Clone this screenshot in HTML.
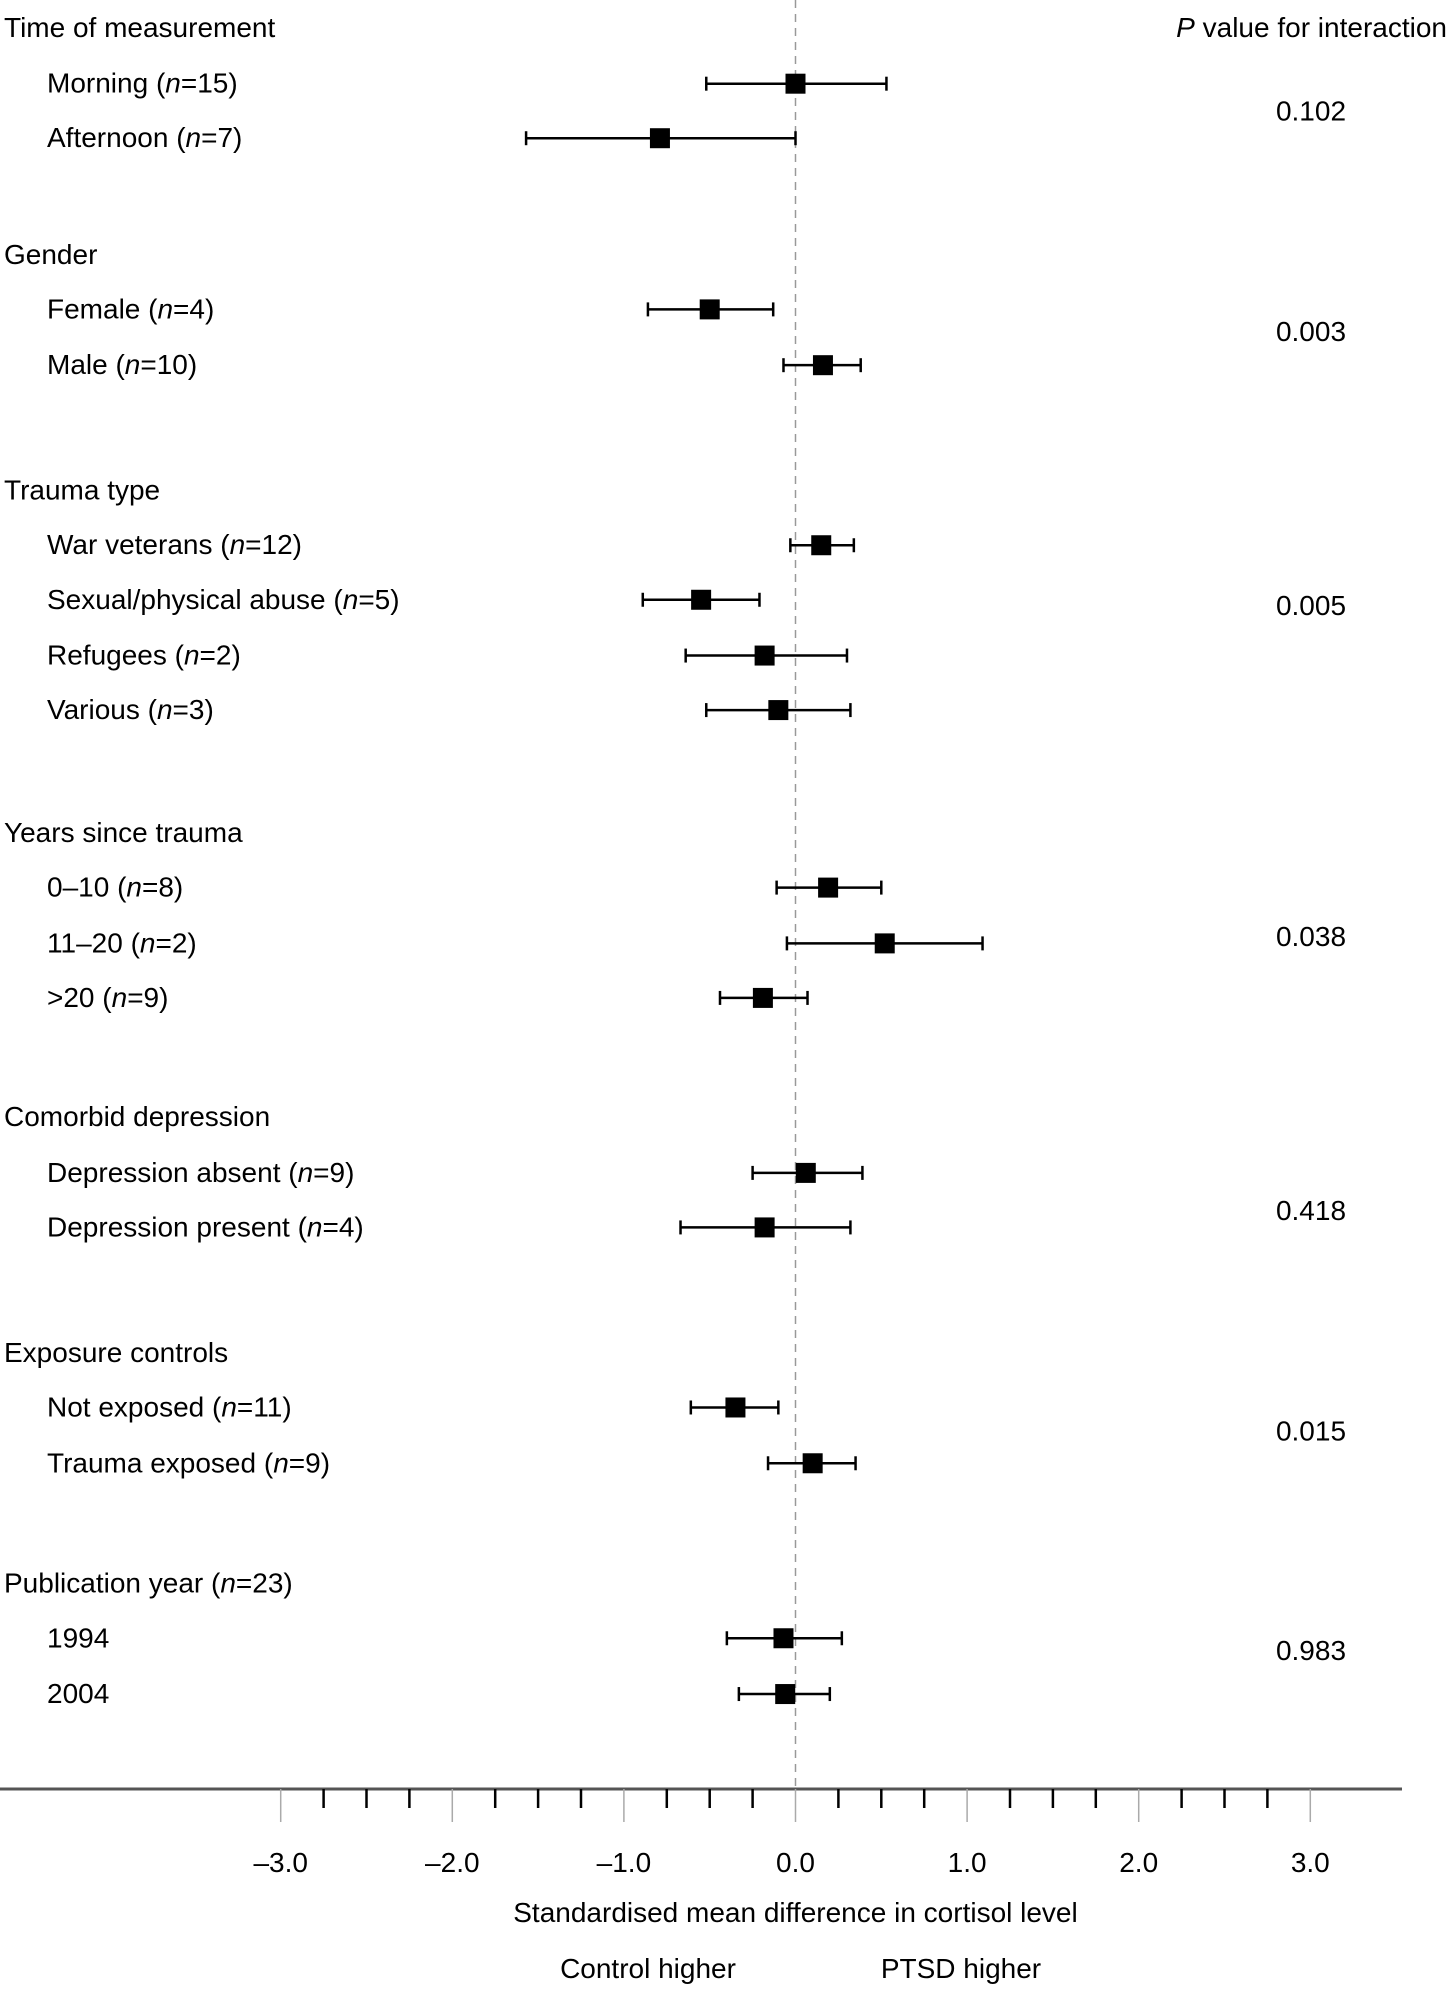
<!DOCTYPE html>
<html><head><meta charset="utf-8"><style>
body{margin:0;background:#fff;}
svg{display:block;font-family:"Liberation Sans",sans-serif;}
text{fill:#000;font-size:28px;}
</style></head><body>
<svg id="chart" width="1449" height="1990" viewBox="0 0 1449 1990" xmlns="http://www.w3.org/2000/svg">
<text x="1447" y="37" text-anchor="end"><tspan font-style="italic">P</tspan> value for interaction</text>
</svg>
<script>
const headers=["Time of measurement","Gender","Trauma type","Years since trauma","Comorbid depression","Exposure controls","Publication year (n=23)"];
const headerRows=[22,201,387,657,881,1067,1249];
const labels=["Morning|15","Afternoon|7","Female|4","Male|10","War veterans|12","Sexual/physical abuse|5","Refugees|2","Various|3","0–10|8","11–20|2",">20|9","Depression absent|9","Depression present|4","Not exposed|11","Trauma exposed|9","1994|","2004|"];
const rowPos=[66,109,244,288,430,473,517,560,700,744,787,925,968,1110,1154,1292,1336];
const est=[0.0,-0.79,-0.50,0.16,0.15,-0.55,-0.18,-0.10,0.19,0.52,-0.19,0.06,-0.18,-0.35,0.10,-0.07,-0.06];
const lo=[-0.52,-1.57,-0.86,-0.07,-0.03,-0.89,-0.64,-0.52,-0.11,-0.05,-0.44,-0.25,-0.67,-0.61,-0.16,-0.40,-0.33];
const hi=[0.53,0.0,-0.13,0.38,0.34,-0.21,0.30,0.32,0.50,1.09,0.07,0.39,0.32,-0.10,0.35,0.27,0.20];
const pvals=["0.102","0.003","0.005","0.038","0.418","0.015","0.983"];
const pRows=[88,262,478,739,955,1129,1302];
const tickVals=[-3,-2,-1,0,1,2,3];
const tickLabels=["–3.0","–2.0","–1.0","0.0","1.0","2.0","3.0"];

const S=1.268;
const xs=v=>795.5+v*171.6;
const ys=r=>r*S;
const svg=document.getElementById('chart');
const NS="http://www.w3.org/2000/svg";
function mk(tag,attrs,parent){const e=document.createElementNS(NS,tag);for(const k in attrs)e.setAttribute(k,attrs[k]);(parent||svg).appendChild(e);return e;}
const axisY=1789;
let z=mk('line',{x1:xs(0),x2:xs(0),y1:0,y2:axisY,stroke:'#999','stroke-width':1.5,'stroke-dasharray':'8,6'});


headers.forEach((h,i)=>{
  const t=mk('text',{x:4,y:ys(headerRows[i])+9});
  const m=h.match(/^(.*)\(n=(\d+)\)$/);
  if(m){t.innerHTML=m[1]+'(<tspan font-style="italic">n</tspan>='+m[2]+')';}else t.textContent=h;
  
  
});
labels.forEach((l,i)=>{
  const [name,n]=l.split('|');
  const y=ys(rowPos[i]);
  const t=mk('text',{x:47,y:y+9});
  t.innerHTML=n?name+' (<tspan font-style="italic">n</tspan>='+n+')':name;
  
  
  const g=mk('g',{});
  
  
  mk('line',{x1:xs(lo[i]),x2:xs(hi[i]),y1:y,y2:y,stroke:'#000','stroke-width':2.5},g);
  mk('line',{x1:xs(lo[i]),x2:xs(lo[i]),y1:y-7,y2:y+7,stroke:'#000','stroke-width':2.5},g);
  mk('line',{x1:xs(hi[i]),x2:xs(hi[i]),y1:y-7,y2:y+7,stroke:'#000','stroke-width':2.5},g);
  const r=mk('rect',{x:xs(est[i])-10,y:y-10,width:20,height:20,fill:'#000'},g);
  
  
});
pvals.forEach((p,i)=>{
  const t=mk('text',{x:1311,y:ys(pRows[i])+9,'text-anchor':'middle'});
  t.textContent=p;
  
  
});
const ax=mk('line',{x1:0,x2:1402,y1:axisY,y2:axisY,stroke:'#555','stroke-width':3});


for(let q=-12;q<=12;q++){
  const v=q/4;
  if(q%4===0){mk('line',{x1:xs(v),x2:xs(v),y1:axisY,y2:axisY+33,stroke:'#aaa','stroke-width':1.5});}
  else mk('line',{x1:xs(v),x2:xs(v),y1:axisY,y2:axisY+19,stroke:'#000','stroke-width':2.5});
}
tickVals.forEach((v,i)=>{
  const t=mk('text',{x:xs(v),y:1872,'text-anchor':'middle'});
  t.textContent=tickLabels[i];
  
  
});
let t=mk('text',{x:xs(0),y:1922,'text-anchor':'middle'});t.textContent='Standardised mean difference in cortisol level';


t=mk('text',{x:648,y:1978,'text-anchor':'middle'});t.textContent='Control higher';


t=mk('text',{x:961,y:1978,'text-anchor':'middle'});t.textContent='PTSD higher';


</script>
</body></html>
